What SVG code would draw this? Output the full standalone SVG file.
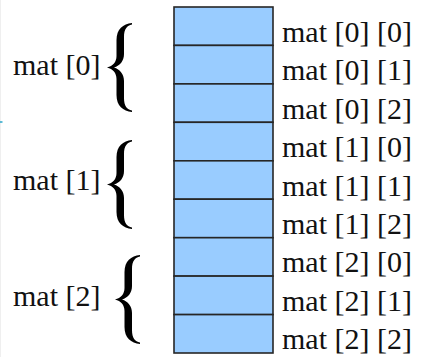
<svg xmlns="http://www.w3.org/2000/svg" width="422" height="357" viewBox="0 0 422 357">
  <style>
    .cell { fill: #99ccff; stroke: #262626; stroke-width: 1.6; }
    text { font-family: 'Liberation Serif', 'DejaVu Serif', serif; font-size: 30px; fill: #111; }
    .brace { fill: #000; }
  </style>
  <defs>
    <!-- curly brace, tip pointing left, 25 wide x 89 tall -->
    <path id="brace" class="brace" d="M25,0 C16,1 9.5,6 9.5,17 L9.5,33 C9.5,39 6,43 0,44.5 C6,46 9.5,50 9.5,56 L9.5,72 C9.5,83 16,88 25,89 L25,87.5 C20,86.5 17,83 17,75 L17,58 C17,51 13,46.5 7,44.5 C13,42.5 17,38 17,31 L17,14 C17,6 20,2.5 25,1.5 Z"/>
  </defs>
  <rect width="422" height="357" fill="#ffffff"/>
  <line x1="0.5" y1="0" x2="0.5" y2="357" stroke="#efefef" stroke-width="1"/>
  <line x1="0" y1="122" x2="2.5" y2="122" stroke="#2aa6c8" stroke-width="1.5"/>

  <!-- memory cells, one row per element -->
  <g id="cells">
    <rect class="cell" x="174" y="7" width="99" height="38.4"/>
    <rect class="cell" x="174" y="45.4" width="99" height="38.5"/>
    <rect class="cell" x="174" y="83.9" width="99" height="38.4"/>
    <rect class="cell" x="174" y="122.3" width="99" height="38.5"/>
    <rect class="cell" x="174" y="160.8" width="99" height="38.4"/>
    <rect class="cell" x="174" y="199.2" width="99" height="38.5"/>
    <rect class="cell" x="174" y="237.7" width="99" height="38.4"/>
    <rect class="cell" x="174" y="276.1" width="99" height="38.5"/>
    <rect class="cell" x="174" y="314.6" width="99" height="38.4"/>
  </g>

  <!-- element names -->
  <g id="element-labels" font-family="Liberation Serif, serif">
    <text x="282" y="41.5">mat [0] [0]</text>
    <text x="282" y="80">mat [0] [1]</text>
    <text x="282" y="118.5">mat [0] [2]</text>
    <text x="282" y="157">mat [1] [0]</text>
    <text x="282" y="195.5">mat [1] [1]</text>
    <text x="282" y="233.8">mat [1] [2]</text>
    <text x="282" y="272.3">mat [2] [0]</text>
    <text x="282" y="310.7">mat [2] [1]</text>
    <text x="282" y="349.2">mat [2] [2]</text>
  </g>

  <!-- row groups -->
  <g id="row0">
    <text x="13" y="75">mat [0]</text>
    <use href="#brace" transform="translate(107,23)"/>
  </g>
  <g id="row1">
    <text x="13" y="190">mat [1]</text>
    <use href="#brace" transform="translate(107,140)"/>
  </g>
  <g id="row2">
    <text x="13" y="305.5">mat [2]</text>
    <use href="#brace" transform="translate(115,255)"/>
  </g>
</svg>
